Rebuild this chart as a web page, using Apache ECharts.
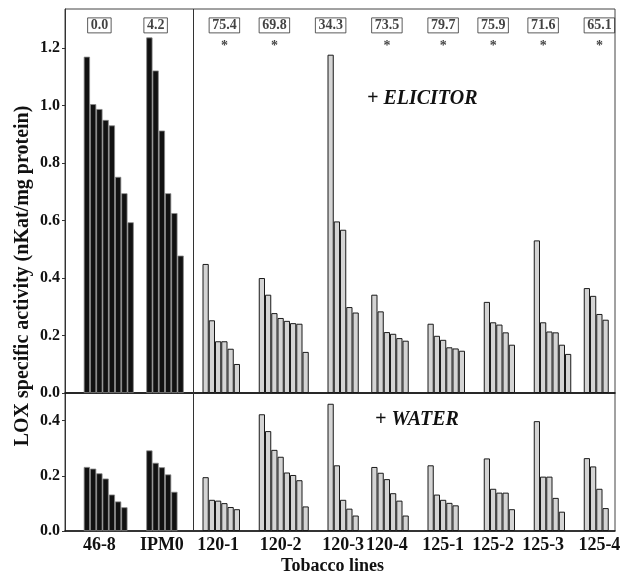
<!DOCTYPE html>
<html>
<head>
<meta charset="utf-8">
<script src="https://cdn.jsdelivr.net/npm/echarts@6/dist/echarts.min.js"></script>
<style>
  html, body { margin: 0; padding: 0; background: #fff; }
  #chart { width: 625px; height: 576px; }
</style>
</head>
<body>
<div id="chart"></div>
<script>
// tobacco lines (first two are controls, drawn black)
var lines = ['46-8', 'IPM0', '120-1', '120-2', '120-3', '120-4', '125-1', '125-2', '125-3', '125-4'];
var isControl = [true, true, false, false, false, false, false, false, false, false];

// LOX specific activity, individual plants, + elicitor
var elicitor = [
  [1.17, 1.005, 0.988, 0.95, 0.931, 0.752, 0.695, 0.594],
  [1.237, 1.122, 0.913, 0.695, 0.626, 0.478],
  [0.449, 0.253, 0.18, 0.18, 0.154, 0.101],
  [0.4, 0.342, 0.278, 0.261, 0.251, 0.243, 0.241, 0.143],
  [1.177, 0.597, 0.568, 0.299, 0.28],
  [0.342, 0.284, 0.212, 0.206, 0.191, 0.182],
  [0.241, 0.199, 0.185, 0.159, 0.155, 0.147],
  [0.317, 0.246, 0.238, 0.211, 0.168],
  [0.531, 0.246, 0.214, 0.211, 0.168, 0.136],
  [0.365, 0.338, 0.275, 0.255]
];
// + water
var water = [
  [0.232, 0.226, 0.209, 0.19, 0.132, 0.107, 0.086],
  [0.292, 0.247, 0.231, 0.205, 0.142],
  [0.195, 0.113, 0.11, 0.101, 0.087, 0.079],
  [0.423, 0.362, 0.294, 0.269, 0.212, 0.203, 0.184, 0.089],
  [0.461, 0.238, 0.113, 0.081, 0.056],
  [0.232, 0.211, 0.188, 0.137, 0.11, 0.056],
  [0.238, 0.132, 0.113, 0.102, 0.093],
  [0.263, 0.153, 0.139, 0.139, 0.079],
  [0.398, 0.197, 0.197, 0.12, 0.07],
  [0.264, 0.234, 0.153, 0.083]
];
// boxed numbers above each line, * = significant
var inhibition = ['0.0', '4.2', '75.4', '69.8', '34.3', '73.5', '79.7', '75.9', '71.6', '65.1'];
var signif = [false, false, true, true, false, true, true, true, true, true];

var ticksTop = [0, 0.2, 0.4, 0.6, 0.8, 1.0, 1.2];
var ticksBottom = [0, 0.2, 0.4];

// layout: bar slots on the category axis
var slotCount = 88;
var groupStart = [3, 13, 22, 31, 42, 49, 58, 67, 75, 83];
var labelSlot = [5, 15, 24, 34, 44, 51, 60, 68, 76, 85];
var boxSlot = [5, 14, 25, 33, 42, 51, 60, 68, 76, 85];
var dividerSlot = 20;

var FONT = 'Liberation Serif';

var cats = [];
for (var i = 0; i < slotCount; i++) cats.push('s' + i);

var labelAt = {};
labelSlot.forEach(function (s, g) { labelAt[s] = lines[g]; });

function slotData(groups) {
  var arr = [];
  for (var i = 0; i < slotCount; i++) arr.push('-');
  groups.forEach(function (vals, g) {
    vals.forEach(function (v, k) {
      arr[groupStart[g] + k] = {
        value: v,
        itemStyle: isControl[g]
          ? { color: '#111', borderColor: '#888', borderWidth: 0.8 }
          : { color: '#d4d4d4', borderColor: '#1a1a1a', borderWidth: 1 }
      };
    });
  });
  return arr;
}

var boxData = boxSlot.map(function (s) { return [cats[s], 1.279]; });
var starData = [];
boxSlot.forEach(function (s, g) { if (signif[g]) starData.push([cats[s], 1.205]); });

var divider = {
  symbol: 'none', silent: true, label: { show: false },
  lineStyle: { color: '#333', width: 1, type: 'solid' },
  data: [{ xAxis: cats[dividerSlot] }]
};

var myChart = echarts.init(document.getElementById('chart'));
var option = {
  backgroundColor: '#fff',
  animation: false,
  grid: [
    { left: 65, right: 10, top: 9, height: 384, show: true, borderColor: '#444', borderWidth: 1 },
    { left: 65, right: 10, top: 393, height: 144, show: true, borderColor: '#444', borderWidth: 1 }
  ],
  xAxis: [
    {
      type: 'category', gridIndex: 0, data: cats,
      axisLine: { lineStyle: { color: '#111', width: 1.5 } },
      axisTick: { show: false }, axisLabel: { show: false }
    },
    {
      type: 'category', gridIndex: 1, data: cats,
      axisLine: { lineStyle: { color: '#111', width: 1.5 } },
      axisTick: { show: false },
      axisLabel: {
        interval: 0, margin: 5, color: '#111',
        fontFamily: FONT, fontWeight: 'bold', fontSize: 18,
        formatter: function (v, idx) { return labelAt[idx] || ''; }
      },
      name: 'Tobacco lines', nameLocation: 'middle', nameGap: 26,
      nameTextStyle: { fontFamily: FONT, fontWeight: 'bold', fontSize: 18, color: '#111', padding: [0, 15, 0, 0] }
    }
  ],
  yAxis: [
    {
      type: 'value', gridIndex: 0, min: 0, max: 1.336,
      axisLine: { show: true, lineStyle: { color: '#333' } },
      axisTick: { show: true, length: 3, customValues: ticksTop, lineStyle: { color: '#333' } },
      axisLabel: {
        customValues: ticksTop, margin: 5, color: '#111',
        fontFamily: FONT, fontWeight: 'bold', fontSize: 16,
        formatter: function (v) { return v.toFixed(1); }
      },
      splitLine: { show: false }
    },
    {
      type: 'value', gridIndex: 1, min: 0, max: 0.5,
      axisLine: { show: true, lineStyle: { color: '#333' } },
      axisTick: { show: true, length: 3, customValues: ticksBottom, lineStyle: { color: '#333' } },
      axisLabel: {
        customValues: ticksBottom, margin: 5, color: '#111',
        fontFamily: FONT, fontWeight: 'bold', fontSize: 16,
        formatter: function (v) { return v.toFixed(1); }
      },
      splitLine: { show: false }
    }
  ],
  series: [
    {
      name: '+ELICITOR', type: 'bar', xAxisIndex: 0, yAxisIndex: 0,
      barCategoryGap: '0%', data: slotData(elicitor), markLine: divider
    },
    {
      name: '+WATER', type: 'bar', xAxisIndex: 1, yAxisIndex: 1,
      barCategoryGap: '0%', data: slotData(water), markLine: divider
    },
    {
      type: 'scatter', xAxisIndex: 0, yAxisIndex: 0, symbolSize: 0, data: boxData,
      label: {
        show: true, position: 'inside', color: '#111',
        fontFamily: FONT, fontWeight: 'bold', fontSize: 14, lineHeight: 14,
        borderColor: '#333', borderWidth: 1, padding: [1, 3, 0, 3],
        formatter: function (p) { return inhibition[p.dataIndex]; }
      }
    },
    {
      type: 'scatter', xAxisIndex: 0, yAxisIndex: 0, symbolSize: 0, data: starData,
      label: {
        show: true, position: 'inside', color: '#111',
        fontFamily: FONT, fontWeight: 'bold', fontSize: 14,
        formatter: '*'
      }
    }
  ],
  graphic: [
    {
      type: 'text', x: 367, y: 89,
      style: { text: '+ ELICITOR', font: 'italic bold 20px "Liberation Serif"', fill: '#111' }
    },
    {
      type: 'text', x: 375, y: 410,
      style: { text: '+ WATER', font: 'italic bold 20px "Liberation Serif"', fill: '#111' }
    },
    {
      type: 'text', x: 23, y: 276, rotation: Math.PI / 2,
      style: {
        text: 'LOX specific activity (nKat/mg protein)', font: 'bold 20px "Liberation Serif"',
        fill: '#111', align: 'center', verticalAlign: 'middle'
      }
    }
  ]
};
myChart.setOption(option);
</script>
</body>
</html>
